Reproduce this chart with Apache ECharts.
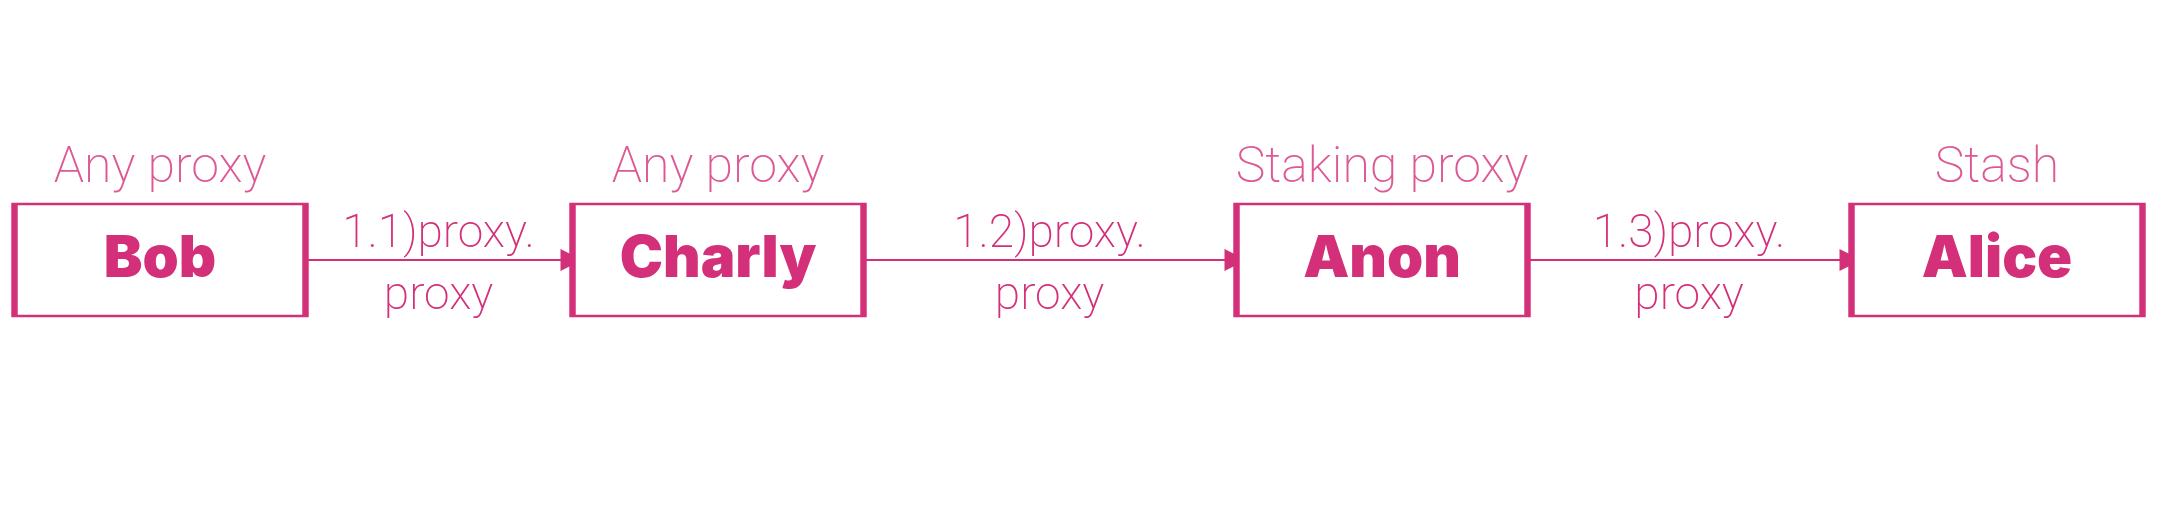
<!DOCTYPE html>
<html>
<head>
<meta charset="utf-8">
<script src="https://cdn.jsdelivr.net/npm/echarts@6/dist/echarts.min.js"></script>
<style>html,body{margin:0;padding:0;background:#fff}#main{width:2162px;height:522px}</style>
</head>
<body>
<div id="main"></div>
<script>
// 数据
var names = ['Bob', 'Charly', 'Anon', 'Alice'];
var roles = ['Any proxy', 'Any proxy', 'Staking proxy', 'Stash'];
var edgeLabels = ['1.1)proxy.\nproxy', '1.2)proxy.\nproxy', '1.3)proxy.\nproxy'];
// 布局
var centersX = [160, 718, 1382, 1997];
var rowY = 260;
var boxW = 291, boxH = 112;
var pink = '#d4307a';

var chart = echarts.init(document.getElementById('main'));

var boxes = names.map(function (n, i) { return { name: n, value: [centersX[i], rowY] }; });
var tops = roles.map(function (r, i) { return { name: r, value: [centersX[i], rowY] }; });
var links = edgeLabels.map(function (t, i) {
  return {
    name: t,
    coords: [[centersX[i] + boxW / 2, rowY], [centersX[i + 1] - boxW / 2 - 1, rowY]]
  };
});

var option = {
  animation: false,
  grid: { left: 0, right: 0, top: 0, bottom: 0 },
  xAxis: { type: 'value', min: 0, max: 2162, show: false },
  yAxis: { type: 'value', min: 0, max: 522, inverse: true, show: false },
  series: [
    {
      type: 'lines',
      coordinateSystem: 'cartesian2d',
      symbol: ['none', 'triangle'],
      symbolSize: [14, 22],
      lineStyle: { color: pink, width: 2, opacity: 1 },
      label: {
        show: true,
        position: 'middle',
        formatter: function (p) { return p.name; },
        color: pink,
        fontFamily: 'Roboto',
        fontWeight: 200,
        fontSize: 46,
        lineHeight: 62,
        align: 'center',
        offset: [0, 68]
      },
      data: links
    },
    {
      type: 'scatter',
      symbol: 'rect',
      symbolSize: [boxW, boxH],
      itemStyle: { color: '#fff', borderColor: pink, borderWidth: 4, opacity: 1 },
      label: {
        show: true,
        position: 'inside',
        formatter: '{b}',
        color: pink,
        fontFamily: 'Inter',
        fontWeight: 900,
        fontSize: 58
      },
      data: boxes,
      z: 3
    },
    {
      type: 'scatter',
      symbol: 'rect',
      symbolSize: [boxW, boxH],
      itemStyle: { color: 'rgba(0,0,0,0)' },
      label: {
        show: true,
        position: 'top',
        distance: 10,
        formatter: '{b}',
        color: pink,
        fontFamily: 'Roboto',
        fontWeight: 200,
        fontSize: 50
      },
      data: tops,
      z: 4
    }
  ]
};
chart.setOption(option);
</script>
</body>
</html>
